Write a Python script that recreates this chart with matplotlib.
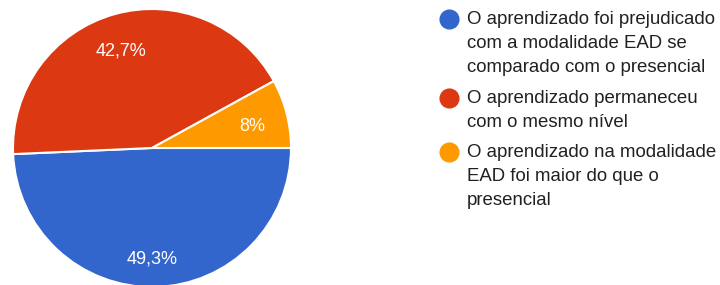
import matplotlib.pyplot as plt
from matplotlib.lines import Line2D
from matplotlib.transforms import offset_copy

plt.rcParams['font.family'] = ['Liberation Sans', 'DejaVu Sans']

labels = ['O aprendizado foi prejudicado\ncom a modalidade EAD se\ncomparado com o presencial',
          'O aprendizado permaneceu\ncom o mesmo nível',
          'O aprendizado na modalidade\nEAD foi maior do que o\npresencial']
values = [49.3, 42.7, 8.0]
colors = ['#3366CC', '#DC3912', '#FF9900']


def fmt(p):
    s = f'{p:.1f}'.rstrip('0').rstrip('.')
    return s.replace('.', ',') + '%'


fig = plt.figure(figsize=(7.2, 2.85), dpi=100)
W, H = 720, 285
cx, cy, r = 152, 148, 139
ax = fig.add_axes([(cx - r) / W, (H - cy - r) / H, 2 * r / W, 2 * r / H])
wedges, texts, autotexts = ax.pie(
    values, colors=colors, startangle=0, counterclock=False,
    autopct=fmt, pctdistance=0.76, radius=1,
    wedgeprops=dict(edgecolor='white', linewidth=1.5),
    textprops=dict(color='white', fontsize=13))
for t in autotexts:
    t.set_va('center_baseline')
    t.set_transform(offset_copy(ax.transData, fig=fig, x=-1.5, y=-2.2, units='points'))
ax.set_xlim(-1, 1)
ax.set_ylim(-1, 1)
ax.axis('off')

# legend drawn by hand
tops = [19, 98, 152]
for lab, col, y in zip(labels, colors, tops):
    fig.add_artist(Line2D([449 / W], [1 - y / H], marker='o', markersize=13.5,
                          color=col, transform=fig.transFigure))
    fig.text(467 / W, 1 - (y - 8) / H, lab, fontsize=13.4, color='#212121',
             va='top', ha='left', linespacing=1.52)

plt.savefig('out.png', dpi=100)
